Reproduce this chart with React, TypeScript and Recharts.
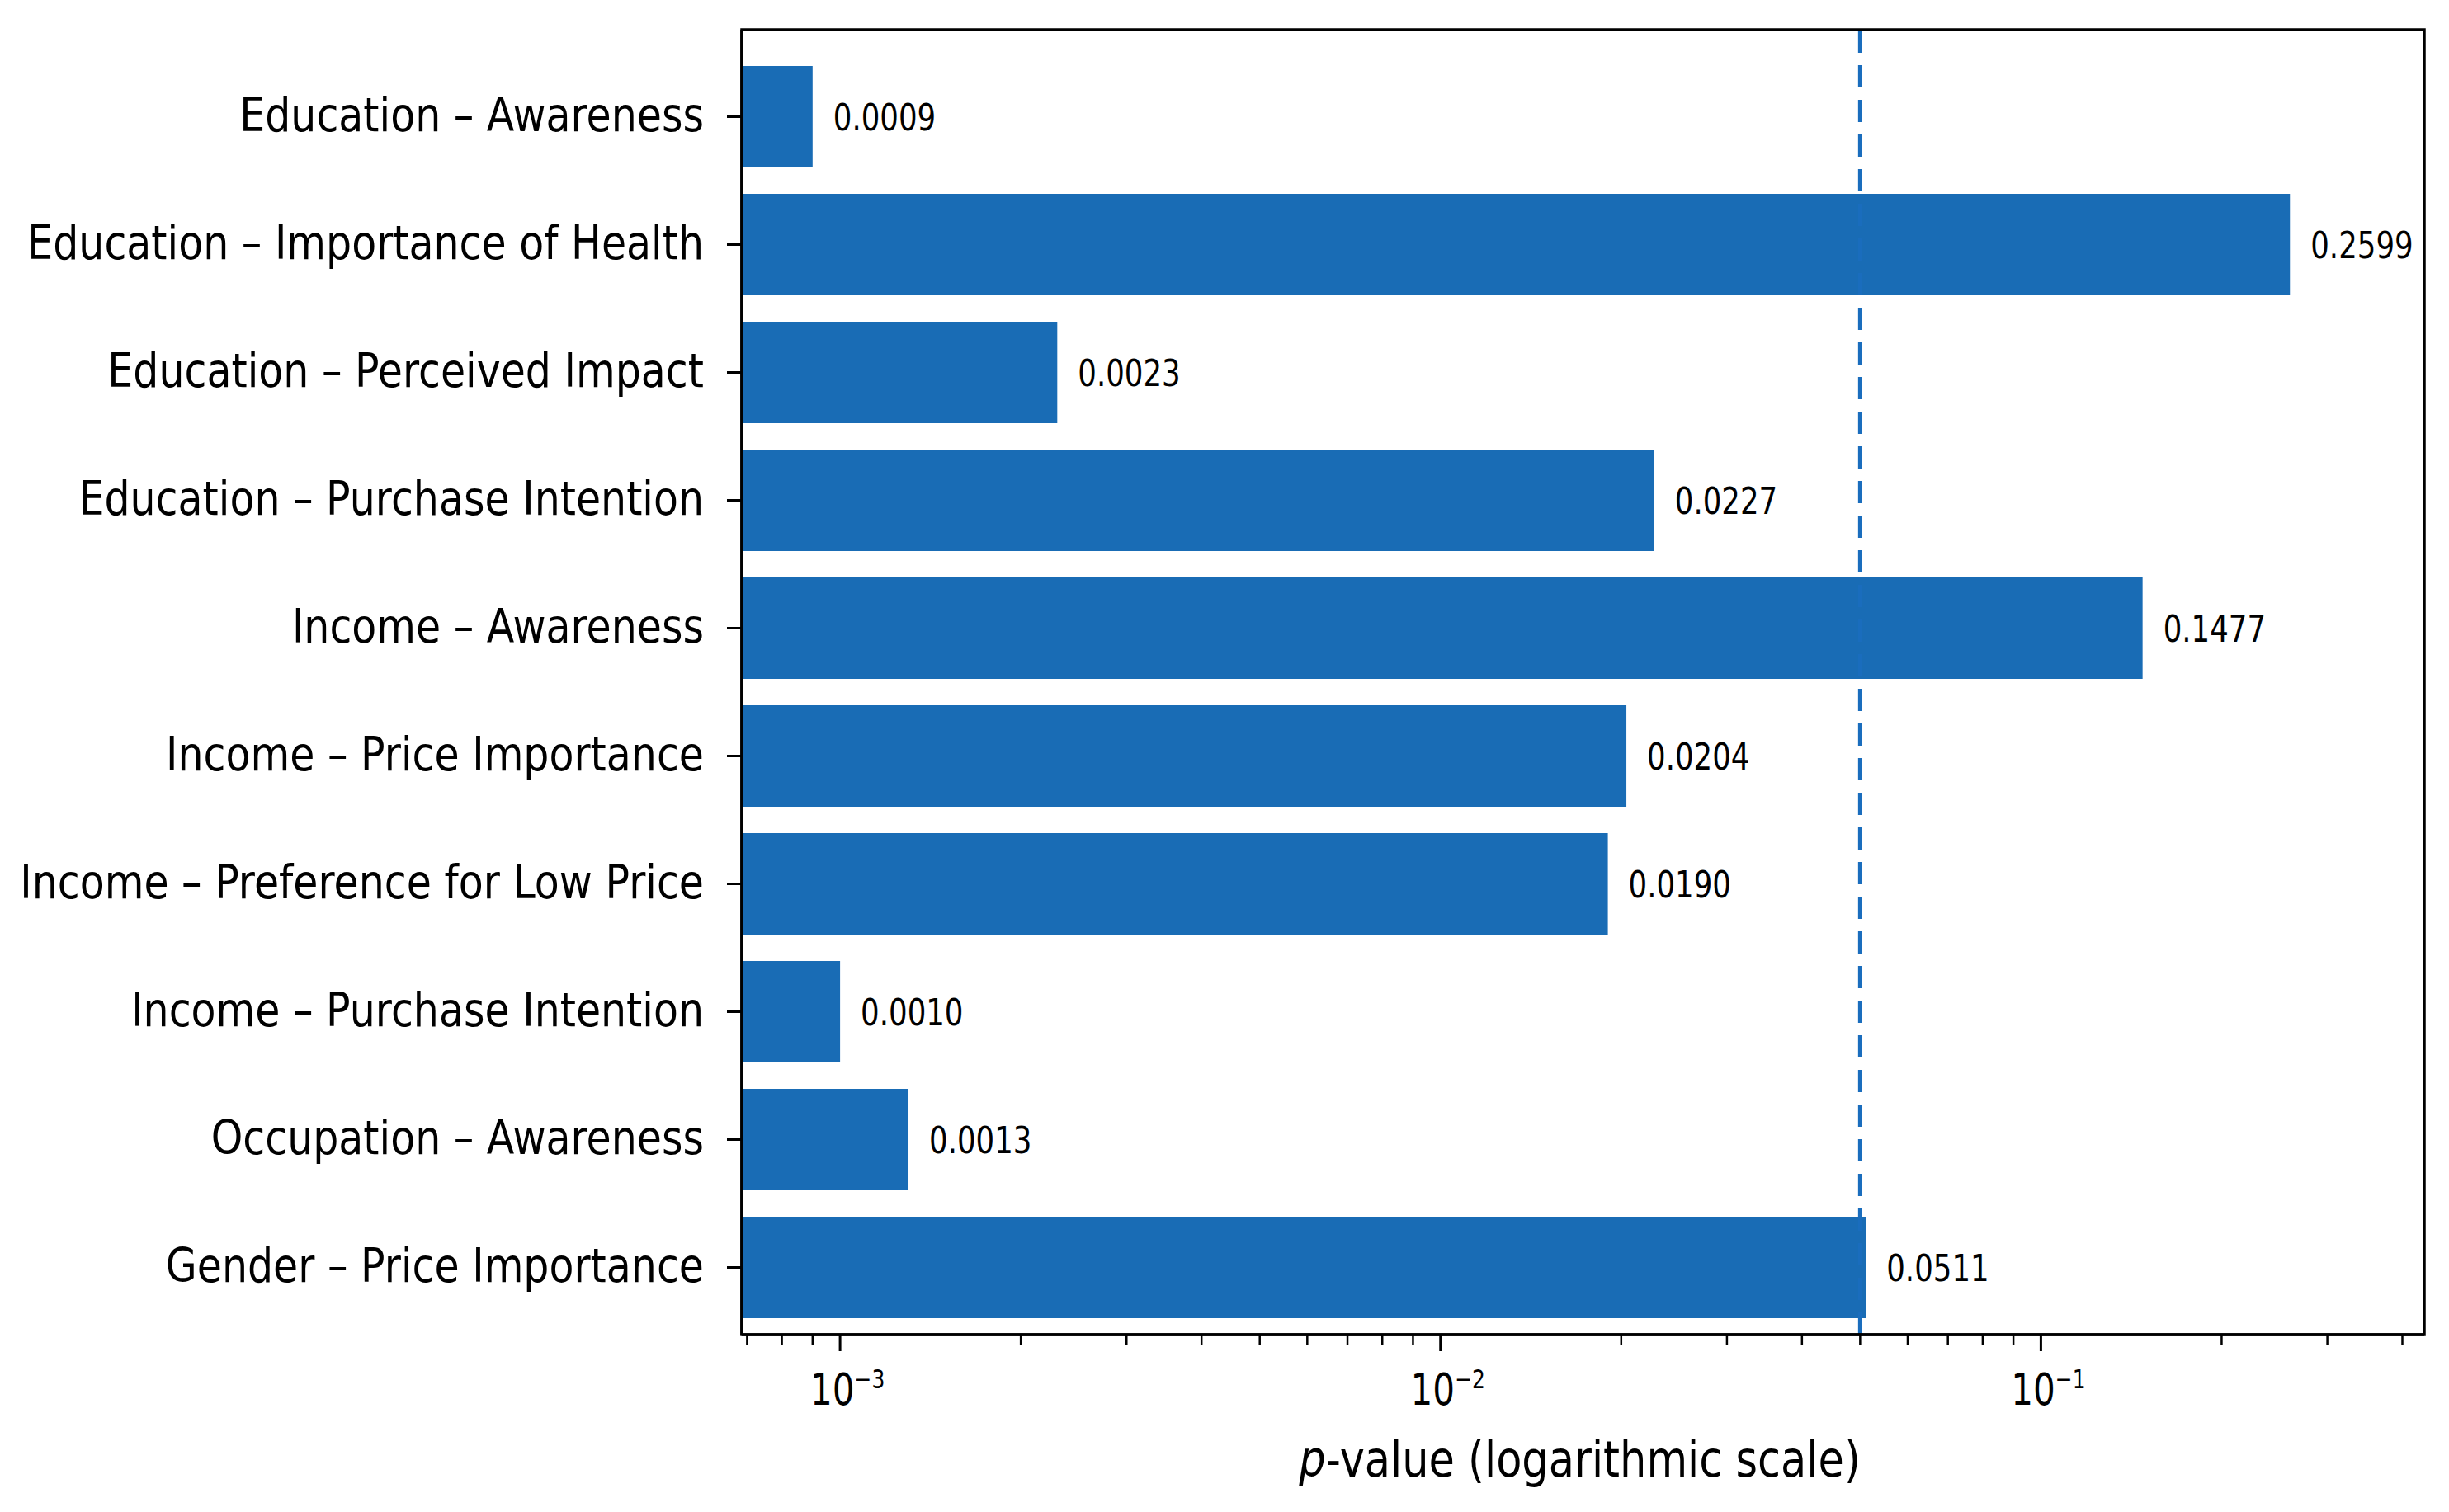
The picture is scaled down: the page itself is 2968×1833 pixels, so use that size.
import React from 'react';
import { BarChart, Bar, XAxis, YAxis, ReferenceLine, LabelList } from 'recharts';

const categories = [
  'Education – Awareness',
  'Education – Importance of Health',
  'Education – Perceived Impact',
  'Education – Purchase Intention',
  'Income – Awareness',
  'Income – Price Importance',
  'Income – Preference for Low Price',
  'Income – Purchase Intention',
  'Occupation – Awareness',
  'Gender – Price Importance',
];
const pValues = [0.0009, 0.2599, 0.0023, 0.0227, 0.1477, 0.0204, 0.019, 0.001, 0.0013, 0.0511];

const majorTicks = [0.001, 0.01, 0.1];
const majorTickExponents = ['−3', '−2', '−1'];
const minorTicks = [
  0.0007, 0.0008, 0.0009,
  0.002, 0.003, 0.004, 0.005, 0.006, 0.007, 0.008, 0.009,
  0.02, 0.03, 0.04, 0.05, 0.06, 0.07, 0.08, 0.09,
  0.2, 0.3, 0.4,
];
const threshold = 0.05;
const xDomain: [number, number] = [0.000686, 0.435];
const xTitle = '-value (logarithmic scale)';

const data = categories.map((name, i) => ({ name, p: pValues[i] }));
const xTicks = [...minorTicks, ...majorTicks].sort((a, b) => a - b);

const FONT = '"DejaVu Sans", sans-serif';
const BAR_COLOR = '#196cb5';
const LINE_COLOR = '#1a6dbd';
const PLOT_TOP = 36;

const XTick = (props: any) => {
  const { x, y, payload } = props;
  const v = payload.value;
  const mi = majorTicks.findIndex((m) => Math.abs(m - v) < m * 1e-6);
  const isMajor = mi >= 0;
  return (
    <g>
      <line x1={x} x2={x} y1={y} y2={y + (isMajor ? 20 : 12)} stroke="#000" strokeWidth={isMajor ? 3 : 2.5} />
      {isMajor && (
        <g transform={`translate(${x + 9},${y + 85}) scale(0.78,1)`}>
          <text textAnchor="middle" fontFamily={FONT} fontSize={54} fill="#000">
            <tspan>10</tspan>
            <tspan fontSize={32} dy={-20}>{majorTickExponents[mi]}</tspan>
          </text>
        </g>
      )}
    </g>
  );
};

const YTick = (props: any) => {
  const { x, y, payload } = props;
  return (
    <g>
      <line x1={x - 18} x2={x} y1={y} y2={y} stroke="#000" strokeWidth={3} />
      <g transform={`translate(${x - 46},${y + 17}) scale(0.86,1)`}>
        <text textAnchor="end" fontFamily={FONT} fontSize={57} fill="#000">
          {payload.value}
        </text>
      </g>
    </g>
  );
};

const ValueLabel = (props: any) => {
  const vb = props.viewBox && props.viewBox.width !== undefined ? props.viewBox : props;
  const x = Number(vb.x);
  const y = Number(vb.y);
  const w = Number(vb.width);
  const h = Number(vb.height);
  const tx = x + w + 25;
  const ty = y + h / 2 + 16;
  return (
    <g transform={`translate(${tx},${ty}) scale(0.79,1)`}>
      <text fontFamily={FONT} fontSize={45} fill="#000">
        {Number(props.value).toFixed(4)}
      </text>
    </g>
  );
};

// Axis title plus the axes frame (plot box outline)
const XTitle = (props: any) => {
  const vb = props.viewBox || { x: 899, y: 1618, width: 2039, height: 215 };
  const cx = vb.x + vb.width / 2 - 4;
  const y = vb.y + 172;
  return (
    <g>
      <rect
        x={vb.x}
        y={PLOT_TOP}
        width={vb.width}
        height={vb.y - PLOT_TOP}
        fill="none"
        stroke="#000"
        strokeWidth={3.5}
      />
      <g transform={`translate(${cx},${y}) scale(0.85,1)`}>
        <text textAnchor="middle" fontFamily={FONT} fontSize={60} fill="#000">
          <tspan fontStyle="italic">p</tspan>
          <tspan>{xTitle}</tspan>
        </text>
      </g>
    </g>
  );
};

const frameLine = { stroke: '#000', strokeWidth: 3.5 };

export default function App() {
  return (
    <div style={{ position: 'absolute', left: 0, top: 0, width: 2968, height: 1833, background: '#fff' }}>
      <BarChart
        width={2968}
        height={1833}
        data={data}
        layout="vertical"
        margin={{ top: PLOT_TOP, right: 30, bottom: 0, left: 0 }}
      >
        <XAxis
          type="number"
          scale="log"
          domain={xDomain}
          allowDataOverflow
          ticks={xTicks}
          interval={0}
          tick={<XTick />}
          tickLine={false}
          tickSize={0}
          tickMargin={0}
          axisLine={frameLine}
          height={215}
          label={<XTitle />}
        />
        <YAxis
          type="category"
          dataKey="name"
          width={899}
          interval={0}
          tick={<YTick />}
          tickLine={false}
          tickSize={0}
          tickMargin={0}
          axisLine={frameLine}
          padding={{ top: 28, bottom: 4 }}
        />
        <ReferenceLine x={threshold} stroke={LINE_COLOR} strokeWidth={5} strokeDasharray="27 15" />
        <Bar dataKey="p" fill={BAR_COLOR} barSize={123} isAnimationActive={false}>
          <LabelList dataKey="p" content={<ValueLabel />} />
        </Bar>
      </BarChart>
    </div>
  );
}
